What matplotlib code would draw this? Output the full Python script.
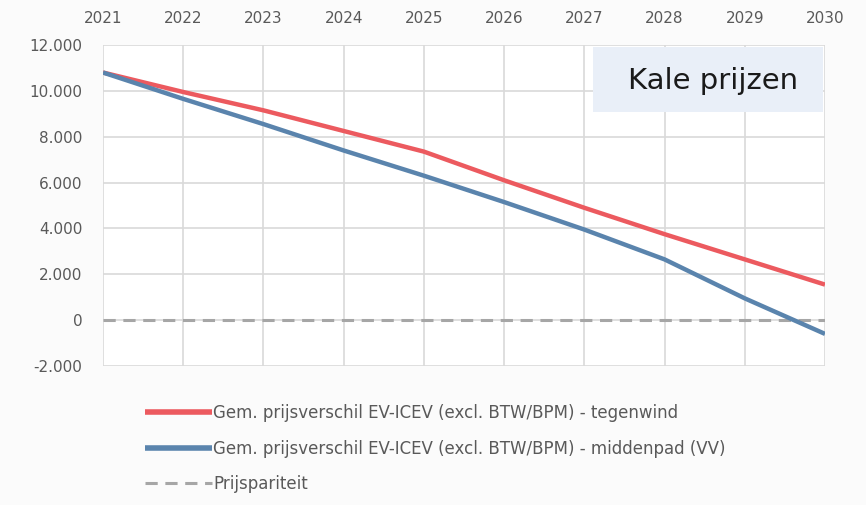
import matplotlib
matplotlib.use("Agg")
import matplotlib.pyplot as plt
from matplotlib.ticker import FuncFormatter
from matplotlib.patches import Rectangle

years = [2021, 2022, 2023, 2024, 2025, 2026, 2027, 2028, 2029, 2030]
tegenwind = [10800, 9950, 9150, 8250, 7350, 6100, 4900, 3750, 2650, 1550]
middenpad = [10800, 9650, 8550, 7400, 6300, 5150, 3950, 2650, 950, -600]
pariteit = [0] * len(years)
yticks = [-2000, 0, 2000, 4000, 6000, 8000, 10000, 12000]

labels = ["Gem. prijsverschil EV-ICEV (excl. BTW/BPM) - tegenwind",
          "Gem. prijsverschil EV-ICEV (excl. BTW/BPM) - middenpad (VV)",
          "Prijspariteit"]

plt.rcParams['font.family'] = ['DejaVu Sans']

fig = plt.figure(figsize=(8.66, 5.05), dpi=100, facecolor='#fbfbfb')
ax = fig.add_axes([103/866, 1-366/505, (825-103)/866, (366-45)/505])
ax.set_facecolor('white')

ax.plot(years, pariteit, color='#a6a6a6', lw=2.2, ls=(0, (4, 2.5)), label=labels[2], zorder=2)
ax.plot(years, tegenwind, color='#ec5a5f', lw=3.2, label=labels[0], zorder=3, solid_capstyle='butt')
ax.plot(years, middenpad, color='#5a84ad', lw=3.2, label=labels[1], zorder=3, solid_capstyle='butt')

ax.set_xlim(years[0], years[-1])
ax.set_ylim(yticks[0], yticks[-1])
ax.set_xticks(years)
ax.set_yticks(yticks)
ax.xaxis.tick_top()
ax.yaxis.set_major_formatter(FuncFormatter(lambda v, p: f"{int(v):,}".replace(",", ".")))
ax.grid(True, color='#d9d9d9', lw=1.2)
ax.set_axisbelow(True)
for s in ax.spines.values():
    s.set_visible(False)
ax.tick_params(length=0, labelsize=11, colors='#595959')
ax.tick_params(axis='x', pad=14)
ax.tick_params(axis='y', pad=15)

# label box
box = Rectangle((593/866, 1-112/505), (823-593)/866, (112-47)/505, transform=fig.transFigure,
                facecolor='#e9eff8', edgecolor='none', zorder=5)
fig.patches.append(box)
fig.text(713/866, 1-81/505, "Kale prijzen", fontsize=21, ha='center', va='center',
         color='#1a1a1a', zorder=10)

handles, lbls = ax.get_legend_handles_labels()
order = [1, 2, 0]
leg = fig.legend([handles[i] for i in order], [lbls[i] for i in order],
                 loc='upper left', bbox_to_anchor=(130/866, 1-389/505), frameon=False,
                 fontsize=12, handlelength=4.0, handletextpad=0.1, labelspacing=1.05,
                 labelcolor='#595959')
for h in leg.get_lines()[:2]:
    h.set_linewidth(4)

fig.savefig("out.png", dpi=100, facecolor=fig.get_facecolor())
